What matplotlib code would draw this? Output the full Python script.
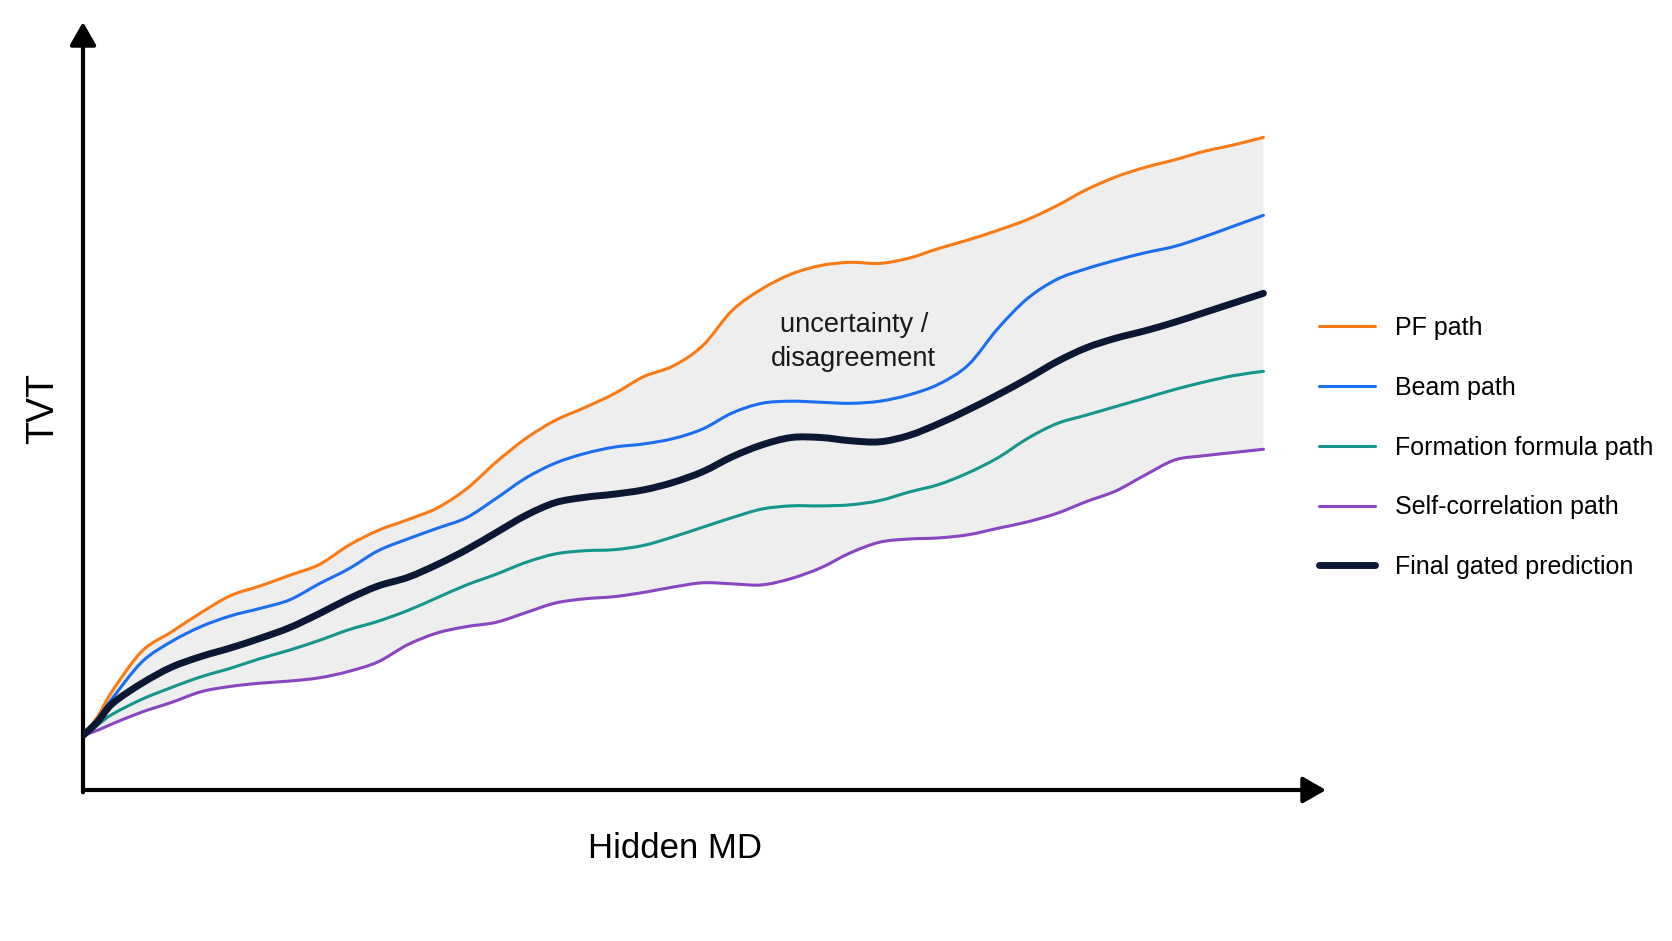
import numpy as np
import matplotlib
matplotlib.use('Agg')
import matplotlib.pyplot as plt
from matplotlib.path import Path
from matplotlib.patches import PathPatch
from matplotlib.lines import Line2D

plt.rcParams['font.family'] = ['Liberation Sans', 'DejaVu Sans']

# Hidden MD (arbitrary units) sampled along the section
hidden_md = np.concatenate(([0.0, 1.25], np.arange(2.5, 100.01, 2.5)))

# TVT readings for each path (arbitrary units)
pf_path = [5.1, 6.9, 9.3, 13.0, 14.8, 16.6, 18.2, 19.1, 20.1, 21.1, 22.9, 24.3, 25.3, 26.4,
           28.2, 30.7, 32.9, 34.6, 35.8, 37.1, 38.7, 39.7, 41.6, 44.9, 46.9, 48.3, 49.1, 49.4,
           49.3, 49.8, 50.7, 51.5, 52.4, 53.4, 54.7, 56.2, 57.4, 58.3, 59.0, 59.8, 60.4, 61.1]
beam_path = [5.1, 6.7, 8.6, 12.0, 13.9, 15.3, 16.3, 17.0, 17.8, 19.3, 20.7, 22.4, 23.5, 24.5,
             25.5, 27.3, 29.2, 30.6, 31.5, 32.1, 32.4, 32.9, 33.8, 35.3, 36.2, 36.4, 36.3, 36.2,
             36.4, 37.0, 38.0, 39.8, 43.2, 46.0, 47.8, 48.8, 49.6, 50.3, 50.9, 51.8, 52.8, 53.8]
formation_path = [5.1, 6.1, 7.1, 8.5, 9.6, 10.6, 11.4, 12.3, 13.1, 14.0, 15.0, 15.8, 16.8, 18.0,
                  19.2, 20.2, 21.3, 22.1, 22.4, 22.5, 22.9, 23.7, 24.6, 25.5, 26.3, 26.6, 26.6, 26.7,
                  27.1, 27.9, 28.6, 29.7, 31.1, 32.9, 34.3, 35.1, 35.9, 36.7, 37.5, 38.2, 38.8, 39.2]
selfcorr_path = [5.1, 5.6, 6.2, 7.3, 8.2, 9.2, 9.7, 10.0, 10.2, 10.5, 11.1, 12.0, 13.6, 14.7,
                 15.3, 15.7, 16.6, 17.5, 17.9, 18.1, 18.5, 19.0, 19.4, 19.3, 19.2, 19.8, 20.8, 22.2,
                 23.2, 23.5, 23.6, 23.9, 24.5, 25.1, 25.9, 27.0, 28.0, 29.5, 30.9, 31.3, 31.6, 31.9]
final_pred = [5.1, 6.4, 8.1, 10.0, 11.5, 12.5, 13.3, 14.2, 15.2, 16.5, 17.9, 19.1, 19.9, 21.1,
              22.5, 24.1, 25.7, 26.9, 27.4, 27.7, 28.1, 28.8, 29.8, 31.2, 32.3, 33.0, 33.0, 32.7,
              32.6, 33.2, 34.3, 35.6, 37.0, 38.5, 40.1, 41.4, 42.3, 43.0, 43.8, 44.7, 45.6, 46.5]

labels = ['PF path', 'Beam path', 'Formation formula path', 'Self-correlation path',
          'Final gated prediction']
colors = ['#fb7a14', '#1a6ff0', '#14968c', '#8a45c2', '#0b1733']


def smooth_segments(x, y):
    """Vertices and codes of a Catmull-Rom style Bezier curve through the points."""
    pts = np.column_stack([x, y]).astype(float)
    ext = np.vstack([pts[0], pts, pts[-1]])
    verts = [pts[0]]
    codes = [Path.MOVETO]
    for i in range(len(pts) - 1):
        p0, p1, p2, p3 = ext[i], ext[i + 1], ext[i + 2], ext[i + 3]
        verts += [p1 + (p2 - p0) / 6, p2 - (p3 - p1) / 6, p2]
        codes += [Path.CURVE4] * 3
    return verts, codes


fig = plt.figure(figsize=(16.72, 9.41), dpi=100)
ax = fig.add_axes([83 / 1672, 151 / 941, 1243 / 1672, 768 / 941])
ax.set_xlim(0, 105.3)
ax.set_ylim(0, 71.9)
ax.axis('off')

# band between the extreme paths
v_up, c_up = smooth_segments(hidden_md, pf_path)
v_lo, c_lo = smooth_segments(hidden_md[::-1], selfcorr_path[::-1])
band = Path(v_up + [v_lo[0]] + v_lo[1:] + [v_up[0]],
            c_up + [Path.LINETO] + c_lo[1:] + [Path.CLOSEPOLY])
ax.add_patch(PathPatch(band, facecolor='#eeeeee', edgecolor='none', zorder=1))

series = [pf_path, beam_path, formation_path, selfcorr_path, final_pred]
widths = [2.2, 2.2, 2.2, 2.2, 5]
handles = []
for vals, lab, col, lw in zip(series, labels, colors, widths):
    v, c = smooth_segments(hidden_md, vals)
    ax.add_patch(PathPatch(Path(v, c), facecolor='none', edgecolor=col, lw=lw,
                           capstyle='round', joinstyle='round', zorder=4 if lw > 3 else 3))
    handles.append(Line2D([], [], color=col, lw=lw, solid_capstyle='round'))

# axis arrows
arrow = dict(arrowstyle='-|>,head_length=0.7,head_width=0.4', mutation_scale=20,
             lw=3, color='black', shrinkA=0, shrinkB=0)
ax.annotate('', xy=(1, 0), xytext=(0, 0), xycoords='axes fraction', arrowprops=arrow)
ax.annotate('', xy=(0, 1), xytext=(0, -0.003), xycoords='axes fraction', arrowprops=arrow)

fig.text(43 / 1672, 1 - 408 / 941, 'TVT', rotation=90, fontsize=27, ha='center', va='center')
fig.text(675 / 1672, 1 - 848 / 941, 'Hidden MD', fontsize=25, ha='center', va='center')

ax.text(65.3, 41.9, 'uncertainty /\ndisagreement', fontsize=19.6, ha='center', va='center',
        color='#1a1a1a', linespacing=1.4, zorder=5)

fig.legend(handles=handles, labels=labels, loc='upper left', bbox_to_anchor=(1319 / 1672, 1 - 316 / 941),
           frameon=False, fontsize=18, handlelength=2.24, handletextpad=0.8, labelspacing=1.43,
           borderpad=0, borderaxespad=0)

fig.savefig('out.png', dpi=100, facecolor='white')
